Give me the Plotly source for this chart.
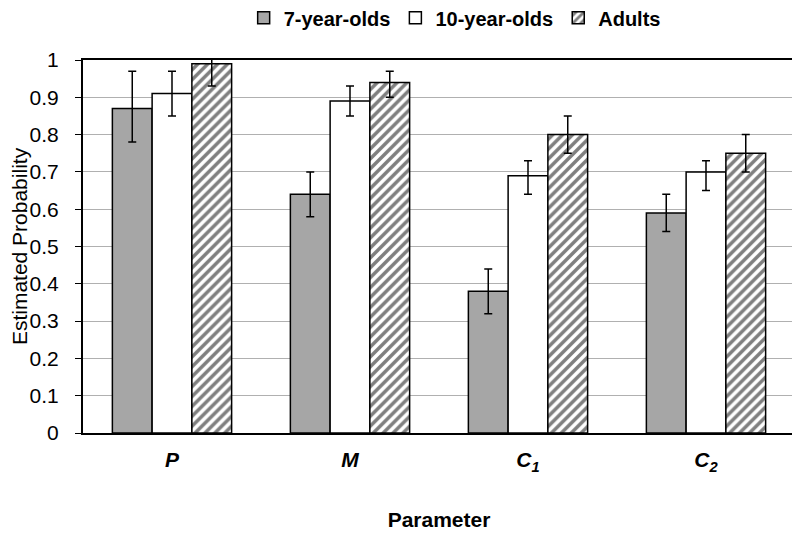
import plotly.graph_objects as go

categories = ["<b><i>P</i></b>", "<b><i>M</i></b>", "<b><i>C<sub>1</sub></i></b>", "<b><i>C<sub>2</sub></i></b>"]
series_names = ["7-year-olds", "10-year-olds", "Adults"]
vals_7 = [0.87, 0.64, 0.38, 0.59]
err_up_7 = [0.10, 0.06, 0.06, 0.05]
err_dn_7 = [0.09, 0.06, 0.06, 0.05]
vals_10 = [0.91, 0.89, 0.69, 0.70]
err_up_10 = [0.06, 0.04, 0.04, 0.03]
err_dn_10 = [0.06, 0.04, 0.05, 0.05]
vals_ad = [0.99, 0.94, 0.80, 0.75]
err_up_ad = [0.06, 0.03, 0.05, 0.05]
err_dn_ad = [0.06, 0.04, 0.05, 0.05]
y_ticks = [0, 0.1, 0.2, 0.3, 0.4, 0.5, 0.6, 0.7, 0.8, 0.9, 1]

FONT = "Liberation Sans, Arial, sans-serif"

def err(up, dn):
    return dict(type="data", symmetric=False, array=up, arrayminus=dn,
                color="black", thickness=1.5, width=4)

fig = go.Figure()
fig.add_trace(go.Bar(name="<b>" + series_names[0] + "</b>", x=categories, y=vals_7,
                     marker=dict(color="#a6a6a6", line=dict(color="black", width=1.5)),
                     error_y=err(err_up_7, err_dn_7)))
fig.add_trace(go.Bar(name="<b>" + series_names[1] + "</b>", x=categories, y=vals_10,
                     marker=dict(color="white", line=dict(color="black", width=1.5)),
                     error_y=err(err_up_10, err_dn_10)))
fig.add_trace(go.Bar(name="<b>" + series_names[2] + "</b>", x=categories, y=vals_ad,
                     marker=dict(color="white", line=dict(color="black", width=1.5),
                                 pattern=dict(shape="/", fgcolor="black", bgcolor="white",
                                              size=7, solidity=0.5)),
                     error_y=err(err_up_ad, err_dn_ad)))

fig.update_layout(
    width=800, height=542,
    margin=dict(l=75, r=13, t=52, b=117, autoexpand=False),
    paper_bgcolor="white", plot_bgcolor="white",
    font=dict(family=FONT, size=21, color="black"),
    barmode="group", bargap=0.33, bargroupgap=0,
    showlegend=True,
    legend=dict(orientation="h", x=0.522, xanchor="center", y=0.982, yanchor="middle",
                yref="container", font=dict(size=20), itemwidth=30,
                traceorder="normal", bgcolor="rgba(0,0,0,0)"),
    xaxis=dict(showline=True, linecolor="black", linewidth=2, mirror=True,
               ticks="", ticklabelstandoff=7, automargin=False,
               title=dict(text="<b>Parameter</b>", standoff=39, font=dict(size=21))),
    yaxis=dict(range=[0, 1], tickvals=y_ticks, ticktext=[str(v) for v in y_ticks],
               showgrid=True, gridcolor="#b0b0b0", gridwidth=1,
               showline=True, linecolor="black", linewidth=2,
               ticks="outside", ticklen=6, tickcolor="black", ticklabelstandoff=12,
               zeroline=False, automargin=False,
               title=dict(text="Estimated Probability", standoff=0, font=dict(size=21))),
)

fig.write_html("out.html")
